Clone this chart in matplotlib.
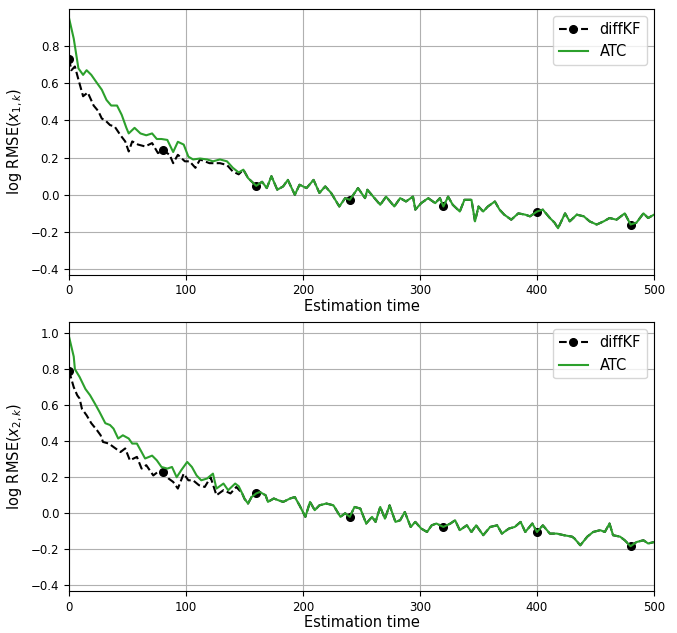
import numpy as np
import matplotlib
matplotlib.use("Agg")
import matplotlib.pyplot as plt

# ---- x_1 (top panel) ----
ATC1_T = [0, 4, 8, 12, 15, 19, 24, 28, 32, 36, 41, 45, 49, 51, 56, 61, 66, 71, 75, 79,
          84, 89, 93, 98, 102, 106, 112, 118, 123, 129, 135, 140, 145, 149, 153, 160, 165,
          169, 173, 178, 183, 187, 193, 197, 203, 209, 214, 219, 224, 231, 236, 240, 247,
          253, 255, 260, 266, 271, 278, 283, 288, 294, 296, 301, 307, 313, 317, 320, 324,
          328, 334, 338, 344, 347, 350, 354, 358, 364, 368, 372, 378, 384, 390, 394, 400,
          405, 411, 415, 418, 424, 428, 434, 440, 445, 451, 457, 462, 468, 475, 480, 485,
          491, 495, 500]
ATC1_V = [0.95, 0.84, 0.68, 0.645, 0.67, 0.645, 0.60, 0.565, 0.51, 0.48, 0.48, 0.43, 0.36,
          0.33, 0.36, 0.33, 0.32, 0.33, 0.30, 0.30, 0.295, 0.23, 0.285, 0.27, 0.205, 0.19,
          0.195, 0.19, 0.18, 0.19, 0.18, 0.145, 0.12, 0.135, 0.09, 0.048, 0.07, 0.036, 0.10,
          0.027, 0.045, 0.08, 0.0, 0.054, 0.036, 0.08, 0.01, 0.045, 0.01, -0.063, -0.018,
          -0.027, 0.036, -0.018, 0.027, -0.01, -0.054, -0.01, -0.063, -0.018, -0.036, -0.01,
          -0.08, -0.045, -0.018, -0.045, -0.018, -0.063, -0.01, -0.054, -0.09, -0.027,
          -0.027, -0.143, -0.063, -0.09, -0.063, -0.036, -0.08, -0.107, -0.134, -0.1,
          -0.107, -0.116, -0.09, -0.08, -0.125, -0.15, -0.18, -0.1, -0.143, -0.107, -0.116,
          -0.143, -0.16, -0.143, -0.125, -0.134, -0.1, -0.16, -0.15, -0.1, -0.125, -0.107]

# diffKF only differs visibly in the transient; after that it sits on ATC
KF1_HEAD_T = [0, 2, 5, 8, 12, 16, 21, 25, 28, 31, 35, 39, 44, 48, 51, 54, 59, 65, 71, 76,
              80, 86, 89, 93, 99, 103, 108, 112, 120, 129, 135, 140, 145]
KF1_HEAD_V = [0.73, 0.67, 0.69, 0.62, 0.53, 0.55, 0.48, 0.45, 0.41, 0.40, 0.375, 0.367,
              0.32, 0.287, 0.233, 0.287, 0.27, 0.26, 0.278, 0.224, 0.24, 0.215, 0.17, 0.215,
              0.18, 0.18, 0.145, 0.19, 0.17, 0.17, 0.16, 0.125, 0.11]
KF1_JOIN = 149

# ---- x_2 (bottom panel) ----
ATC2_T = [0, 4, 5, 9, 14, 18, 22, 26, 31, 35, 38, 42, 46, 51, 54, 58, 62, 65, 71, 75, 79,
          84, 88, 92, 96, 101, 105, 109, 113, 118, 123, 126, 132, 136, 142, 145, 148, 150,
          153, 156, 160, 163, 168, 170, 175, 179, 183, 189, 193, 197, 202, 206, 210, 214,
          220, 226, 232, 236, 240, 244, 249, 254, 259, 262, 266, 270, 274, 279, 283, 287,
          292, 296, 301, 306, 310, 314, 320, 326, 330, 334, 340, 344, 348, 354, 360, 366,
          370, 376, 381, 386, 390, 396, 400, 405, 411, 417, 423, 430, 432, 437, 443, 448,
          454, 458, 462, 465, 471, 475, 480, 485, 491, 495, 500]
ATC2_V = [0.98, 0.87, 0.80, 0.757, 0.69, 0.655, 0.61, 0.563, 0.50, 0.49, 0.47, 0.415,
          0.433, 0.415, 0.387, 0.387, 0.34, 0.304, 0.32, 0.294, 0.257, 0.248, 0.257, 0.20,
          0.24, 0.285, 0.257, 0.21, 0.183, 0.193, 0.22, 0.137, 0.165, 0.128, 0.165, 0.15,
          0.11, 0.08, 0.054, 0.09, 0.11, 0.118, 0.10, 0.063, 0.082, 0.072, 0.063, 0.082,
          0.09, 0.044, -0.02, 0.063, 0.017, 0.044, 0.054, 0.044, -0.02, 0.0, -0.02, 0.035,
          0.026, -0.057, -0.02, -0.048, 0.035, -0.03, 0.044, -0.048, -0.039, 0.007, -0.076,
          -0.048, -0.085, -0.104, -0.067, -0.057, -0.076, -0.057, -0.039, -0.094, -0.067,
          -0.104, -0.067, -0.122, -0.076, -0.067, -0.113, -0.085, -0.076, -0.048, -0.104,
          -0.057, -0.104, -0.067, -0.113, -0.113, -0.122, -0.13, -0.14, -0.178, -0.13,
          -0.104, -0.094, -0.104, -0.057, -0.122, -0.13, -0.15, -0.183, -0.16, -0.15,
          -0.168, -0.16]

KF2_HEAD_T = [0, 4, 7, 9, 11, 15, 19, 24, 27, 29, 34, 38, 44, 48, 52, 58, 62, 66, 72, 76,
              80, 85, 89, 93, 98, 102, 106, 111, 116, 121, 126, 132, 138, 143]
KF2_HEAD_V = [0.79, 0.70, 0.655, 0.637, 0.58, 0.544, 0.50, 0.46, 0.433, 0.396, 0.387,
              0.368, 0.34, 0.36, 0.294, 0.313, 0.248, 0.267, 0.21, 0.23, 0.23, 0.193, 0.174,
              0.137, 0.22, 0.183, 0.183, 0.156, 0.146, 0.20, 0.10, 0.128, 0.11, 0.146]
KF2_JOIN = 148

MARK_STEP = 80


def join_kf(head_t, head_v, atc_t, atc_v, start):
    atc_t = np.array(atc_t)
    atc_v = np.array(atc_v)
    keep = atc_t >= start
    t = np.concatenate([head_t, atc_t[keep]])
    v = np.concatenate([head_v, atc_v[keep]])
    return t, v


def draw_panel(ax, kf_t, kf_v, atc_t, atc_v, ylabel, ylim):
    marks = list(np.where(np.asarray(kf_t) % MARK_STEP == 0)[0])
    ax.plot(kf_t, kf_v, "k--", marker="o", markersize=5.5, markevery=marks,
            linewidth=1.5, label="diffKF")
    ax.plot(atc_t, atc_v, color="#2ca02c", linewidth=1.5, label="ATC")
    ax.set_xlim(0, 500)
    ax.set_ylim(*ylim)
    ax.set_yticks([-0.4, -0.2, 0.0, 0.2, 0.4, 0.6, 0.8] + ([1.0] if ylim[1] > 1.0 else []))
    ax.grid(True, color="#b0b0b0", linewidth=0.8)
    ax.set_xlabel("Estimation time", fontsize=10.5, labelpad=1)
    ax.set_ylabel(ylabel, fontsize=10.5)
    ax.tick_params(labelsize=8.5)
    ax.legend(loc="upper right", fontsize=10.5)


fig = plt.figure(figsize=(6.77, 6.33), dpi=100)
ax1 = fig.add_axes([0.102, 0.566, 0.864, 0.420])
ax2 = fig.add_axes([0.102, 0.066, 0.864, 0.425])

t1, v1 = join_kf(KF1_HEAD_T, KF1_HEAD_V, ATC1_T, ATC1_V, KF1_JOIN)
t2, v2 = join_kf(KF2_HEAD_T, KF2_HEAD_V, ATC2_T, ATC2_V, KF2_JOIN)

draw_panel(ax1, t1, v1, ATC1_T, ATC1_V, r"log RMSE($x_{1,k}$)", (-0.43, 1.0))
draw_panel(ax2, t2, v2, ATC2_T, ATC2_V, r"log RMSE($x_{2,k}$)", (-0.433, 1.061))

fig.savefig("out.png", dpi=100)
